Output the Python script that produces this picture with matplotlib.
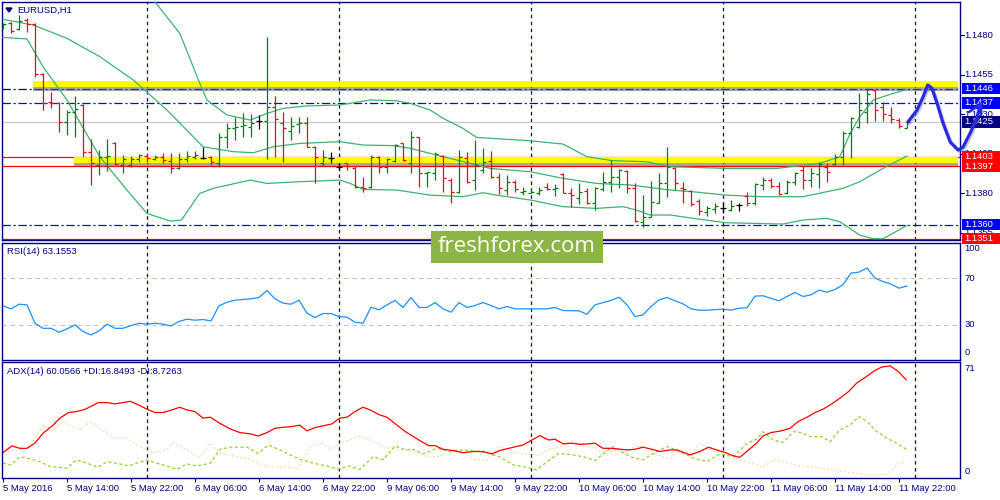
import numpy as np
import matplotlib.pyplot as plt
import matplotlib.patheffects as pe
from matplotlib.patches import Rectangle, Polygon
from matplotlib.transforms import blended_transform_factory

plt.rcParams['font.family'] = ['Liberation Sans', 'DejaVu Sans']
plt.rcParams['lines.scale_dashes'] = False

# ---- chart data (EURUSD H1, bar 0 = 5 May 2016 06:00) ----
time_labels = ['5 May 2016', '5 May 14:00', '5 May 22:00', '6 May 06:00', '6 May 14:00',
               '6 May 22:00', '9 May 06:00', '9 May 14:00', '9 May 22:00', '10 May 06:00',
               '10 May 14:00', '10 May 22:00', '11 May 06:00', '11 May 14:00', '11 May 22:00']
time_label_bars = [0, 8, 16, 24, 32, 40, 48, 56, 64, 72, 80, 88, 96, 104, 112]
day_bars = [18, 42, 66, 90, 114]

opens = [1.14842, 1.14878, 1.14836, 1.14895, 1.14870, 1.14553, 1.14378, 1.14368, 1.14251, 1.14315,
         1.14357, 1.14062, 1.13977, 1.14030, 1.14119, 1.13977, 1.13977, 1.14013, 1.14034, 1.14017,
         1.14030, 1.14005, 1.13956, 1.14013, 1.14030, 1.14022, 1.14030, 1.13988, 1.14157, 1.14209,
         1.14224, 1.14220, 1.14258, 1.14258, 1.14346, 1.14241, 1.14195, 1.14237, 1.14241, 1.14089,
         1.13988, 1.14022, 1.13967, 1.13988, 1.13956, 1.13840, 1.13840, 1.14030, 1.13967, 1.14005,
         1.14114, 1.13988, 1.14157, 1.13929, 1.13924, 1.14036, 1.13882, 1.13808, 1.14019, 1.13882,
         1.13946, 1.14005, 1.13903, 1.13819, 1.13872, 1.13808, 1.13802, 1.13802, 1.13836, 1.13825,
         1.13920, 1.13798, 1.13766, 1.13815, 1.13735, 1.13823, 1.13872, 1.13903, 1.13941, 1.13830,
         1.13619, 1.13650, 1.13739, 1.13861, 1.13956, 1.13830, 1.13815, 1.13751, 1.13682, 1.13697,
         1.13703, 1.13692, 1.13724, 1.13781, 1.13735, 1.13851, 1.13882, 1.13844, 1.13798, 1.13872,
         1.13946, 1.13882, 1.13920, 1.13967, 1.13984, 1.14030, 1.14178, 1.14220, 1.14315, 1.14452,
         1.14346, 1.14294, 1.14262, 1.14214]
highs = [1.14878, 1.14884, 1.14927, 1.14905, 1.14874, 1.14557, 1.14441, 1.14378, 1.14325, 1.14414,
         1.14363, 1.14140, 1.14072, 1.14140, 1.14125, 1.14041, 1.14034, 1.14047, 1.14047, 1.14041,
         1.14051, 1.14051, 1.14051, 1.14068, 1.14068, 1.14093, 1.14034, 1.14178, 1.14241, 1.14283,
         1.14304, 1.14300, 1.14294, 1.14789, 1.14414, 1.14315, 1.14283, 1.14279, 1.14279, 1.14097,
         1.14072, 1.14062, 1.13988, 1.13992, 1.13971, 1.13903, 1.14041, 1.14034, 1.14019, 1.14110,
         1.14119, 1.14192, 1.14157, 1.13935, 1.14062, 1.14041, 1.13893, 1.14072, 1.14062, 1.14135,
         1.14083, 1.14068, 1.13924, 1.13914, 1.13882, 1.13840, 1.13830, 1.13840, 1.13865, 1.13857,
         1.13924, 1.13830, 1.13861, 1.13830, 1.13840, 1.13935, 1.14009, 1.13950, 1.13946, 1.13865,
         1.13787, 1.13878, 1.13924, 1.14093, 1.13967, 1.13872, 1.13819, 1.13760, 1.13718, 1.13735,
         1.13745, 1.13756, 1.13739, 1.13808, 1.13865, 1.13903, 1.13893, 1.13872, 1.13882, 1.13935,
         1.13971, 1.13956, 1.13998, 1.13988, 1.14047, 1.14195, 1.14279, 1.14435, 1.14456, 1.14456,
         1.14378, 1.14342, 1.14273, 1.14258]
lows = [1.14836, 1.14811, 1.14832, 1.14821, 1.14536, 1.14325, 1.14336, 1.14188, 1.14167, 1.14157,
        1.14030, 1.13851, 1.13914, 1.13941, 1.13977, 1.13929, 1.13962, 1.13998, 1.13998, 1.14009,
        1.13992, 1.13924, 1.13950, 1.13998, 1.14013, 1.14017, 1.13977, 1.13962, 1.14083, 1.14135,
        1.14152, 1.14152, 1.14203, 1.14013, 1.14030, 1.13998, 1.14135, 1.14178, 1.14089, 1.13861,
        1.13971, 1.13988, 1.13946, 1.13946, 1.13830, 1.13808, 1.13830, 1.13929, 1.13924, 1.13998,
        1.14005, 1.13924, 1.13840, 1.13840, 1.13882, 1.13808, 1.13739, 1.13802, 1.13861, 1.13819,
        1.13929, 1.13893, 1.13792, 1.13787, 1.13808, 1.13787, 1.13798, 1.13787, 1.13819, 1.13781,
        1.13798, 1.13714, 1.13731, 1.13731, 1.13692, 1.13815, 1.13808, 1.13830, 1.13798, 1.13619,
        1.13583, 1.13646, 1.13735, 1.13777, 1.13819, 1.13739, 1.13718, 1.13661, 1.13654, 1.13671,
        1.13671, 1.13688, 1.13688, 1.13718, 1.13724, 1.13819, 1.13830, 1.13787, 1.13794, 1.13851,
        1.13823, 1.13840, 1.13830, 1.13872, 1.13977, 1.13977, 1.14019, 1.14209, 1.14241, 1.14258,
        1.14258, 1.14245, 1.14209, 1.14209]
closes = [1.14870, 1.14827, 1.14891, 1.14870, 1.14553, 1.14368, 1.14368, 1.14251, 1.14315, 1.14330,
          1.14062, 1.13988, 1.14030, 1.14034, 1.13984, 1.14013, 1.14013, 1.14038, 1.14019, 1.14030,
          1.14009, 1.13956, 1.14015, 1.14034, 1.14038, 1.14022, 1.13998, 1.14152, 1.14209, 1.14220,
          1.14228, 1.14241, 1.14258, 1.14346, 1.14266, 1.14214, 1.14224, 1.14245, 1.14089, 1.14030,
          1.14030, 1.14022, 1.13967, 1.13971, 1.13840, 1.13830, 1.14026, 1.13962, 1.14013, 1.14104,
          1.14009, 1.14157, 1.13929, 1.13932, 1.14047, 1.13893, 1.13808, 1.14026, 1.13872, 1.13977,
          1.13998, 1.13903, 1.13830, 1.13872, 1.13823, 1.13812, 1.13808, 1.13819, 1.13827, 1.13834,
          1.13802, 1.13787, 1.13808, 1.13739, 1.13830, 1.13872, 1.13903, 1.13946, 1.13830, 1.13625,
          1.13650, 1.13745, 1.13861, 1.13967, 1.13861, 1.13823, 1.13730, 1.13688, 1.13703, 1.13718,
          1.13703, 1.13718, 1.13724, 1.13739, 1.13857, 1.13882, 1.13844, 1.13794, 1.13872, 1.13924,
          1.13882, 1.13924, 1.13984, 1.13935, 1.14030, 1.14178, 1.14273, 1.14325, 1.14427, 1.14325,
          1.14300, 1.14266, 1.14224, 1.14251]

# Bollinger bands at the given bar positions
bb_mid_x = [0, 3.8, 8.0, 12.1, 16.3, 20.5, 25.0, 28.8, 31.3, 33.8, 37.1, 42.1, 45.0, 48.8, 50.9, 53.4,
            55.9, 58.4, 60.9, 65.9, 70.0, 74.2, 78.4, 83.4, 86.3, 90.4, 94.6, 100.0, 105.0, 107.1,
            110.4, 113.0]
bb_mid = [1.14899, 1.14863, 1.14779, 1.14663, 1.14515, 1.14325, 1.14093, 1.14062, 1.14055, 1.14093,
          1.14114, 1.14125, 1.14104, 1.14100, 1.14083, 1.14051, 1.14019, 1.13988, 1.13956, 1.13935,
          1.13893, 1.13861, 1.13851, 1.13819, 1.13808, 1.13787, 1.13777, 1.13777, 1.13830, 1.13872,
          1.13967, 1.14034]
bb_up_x = [18.8, 22.1, 24.6, 25.5, 28.0, 30.9, 33.0, 35.0, 37.9, 42.1, 43.4, 45.9, 49.2, 50.9, 53.4,
           55.0, 57.5, 59.2, 65.9, 70.0, 73.0, 76.2, 80.5, 83.4, 90.4, 96.7, 102.1, 104.6, 105.9,
           107.1, 108.8, 111.3, 113.0]
bb_up = [1.15022, 1.14811, 1.14494, 1.14389, 1.14294, 1.14262, 1.14304, 1.14336, 1.14351, 1.14357,
         1.14368, 1.14389, 1.14384, 1.14368, 1.14325, 1.14273, 1.14209, 1.14152, 1.14131, 1.14110,
         1.14030, 1.14005, 1.13998, 1.13967, 1.13956, 1.13956, 1.13988, 1.14030, 1.14178, 1.14283,
         1.14389, 1.14431, 1.14456]
bb_lo_x = [0, 3.0, 5.0, 8.0, 12.1, 15.5, 18.0, 20.9, 22.3, 24.6, 26.3, 30.9, 33.0, 37.1, 42.1, 43.4,
           45.0, 49.2, 53.4, 57.5, 60.0, 61.7, 65.9, 70.0, 74.2, 77.5, 79.2, 80.9, 83.4, 86.3, 90.4,
           97.5, 100.0, 103.0, 104.6, 107.1, 108.8, 110.0, 113.0]
bb_lo = [1.14785, 1.14775, 1.14600, 1.14389, 1.14030, 1.13819, 1.13671, 1.13623, 1.13629, 1.13798,
         1.13830, 1.13882, 1.13861, 1.13872, 1.13882, 1.13861, 1.13823, 1.13819, 1.13787, 1.13777,
         1.13802, 1.13787, 1.13756, 1.13714, 1.13703, 1.13714, 1.13692, 1.13661, 1.13661, 1.13640,
         1.13612, 1.13604, 1.13629, 1.13640, 1.13619, 1.13534, 1.13511, 1.13511, 1.13595]

rsi_x = [0, 1, 2, 3, 4, 5, 6, 7, 8, 9, 10, 11, 12, 13, 14, 15, 16, 17, 18, 19, 20, 21, 22, 23, 24, 25,
         26, 27, 28, 29, 31, 32, 33, 34, 35, 36, 37, 38, 39, 40, 41, 42, 43, 44, 45, 46, 47, 48, 49,
         50, 51, 52, 53, 54, 55, 56, 57, 58, 59, 60, 61, 62, 63, 64, 66, 68, 69, 70, 72, 73, 74, 75,
         76, 77, 78, 79, 80, 81, 82, 83, 84, 85, 86, 87, 88, 90, 91, 92, 93, 94, 95, 97, 98, 99, 100,
         101, 102, 103, 104, 105, 106, 107, 108, 109, 110, 111, 112, 113]
rsi = [46.3, 43.7, 47.7, 47.1, 31.4, 27.1, 27.1, 23.7, 26.6, 30.0, 24.3, 21.4, 24.9, 30.6, 27.1, 27.1,
       29.4, 31.4, 30.6, 31.4, 30.6, 29.1, 32.9, 34.9, 34.0, 34.6, 33.4, 46.3, 49.4, 51.1, 52.3, 53.4,
       59.4, 52.3, 48.6, 47.7, 51.1, 40.0, 36.3, 39.7, 39.7, 37.1, 36.6, 32.3, 31.4, 45.1, 42.9, 47.1,
       50.9, 44.9, 53.4, 44.9, 44.9, 49.1, 43.7, 40.9, 49.1, 44.9, 46.6, 49.1, 46.6, 43.7, 45.7, 43.7,
       43.7, 43.7, 44.9, 42.3, 42.0, 39.1, 47.1, 49.1, 50.9, 53.7, 47.1, 37.1, 38.6, 45.7, 51.4, 53.4,
       50.6, 48.0, 43.7, 42.6, 42.6, 43.4, 42.6, 44.3, 44.6, 54.6, 54.9, 50.6, 54.3, 57.7, 54.3, 55.7,
       59.7, 58.0, 60.3, 64.3, 74.3, 75.1, 78.6, 70.0, 67.1, 64.9, 61.4, 63.2]

adx_x = [0, 1.1, 2.1, 3.0, 4.0, 5.0, 6.3, 7.1, 8.2, 9.2, 10.3, 11.1, 11.9, 13.0, 14.0, 15.0, 15.9,
         16.9, 18.0, 19.0, 20.0, 21.1, 22.1, 23.0, 24.0, 25.0, 25.9, 27.1, 28.4, 29.6, 30.9, 31.9,
         33.0, 34.0, 35.0, 36.1, 37.1, 38.0, 39.0, 40.0, 41.1, 42.1, 43.0, 44.0, 45.0, 45.9, 47.1,
         48.0, 49.2, 50.3, 51.3, 52.3, 53.2, 54.0, 55.0, 56.3, 57.5, 58.8, 60.0, 61.1, 62.1, 63.8,
         65.0, 66.1, 67.1, 68.2, 69.0, 70.0, 71.1, 72.1, 73.2, 74.0, 75.0, 76.1, 78.0, 79.0, 80.0,
         81.1, 82.1, 83.4, 84.2, 85.9, 87.1, 88.2, 89.2, 90.3, 91.3, 92.1, 93.2, 94.2, 95.0, 96.0,
         97.3, 98.4, 99.4, 100.5, 101.5, 102.5, 103.6, 104.6, 105.7, 106.7, 107.8, 108.8, 109.8,
         110.9, 111.9, 112.9]
adx = [14.7, 18.9, 17.4, 17.4, 20.6, 26.8, 32.0, 36.2, 39.7, 40.3, 41.8, 43.8, 45.9, 45.9, 45.1, 45.9,
       46.7, 44.5, 41.8, 39.7, 39.7, 41.3, 43.0, 41.3, 40.3, 36.2, 36.8, 33.0, 29.5, 27.2, 26.4, 25.1,
       27.2, 29.9, 30.5, 31.0, 31.8, 28.3, 30.3, 31.4, 32.6, 36.2, 36.8, 40.3, 43.0, 41.3, 38.2, 36.8,
       32.0, 27.8, 24.7, 21.6, 19.1, 19.1, 16.8, 16.0, 14.7, 15.4, 15.4, 13.9, 16.0, 18.1, 19.5, 22.6,
       25.3, 22.6, 23.1, 20.2, 20.6, 19.9, 20.2, 20.6, 17.4, 17.4, 16.4, 16.8, 18.1, 16.8, 15.4, 16.4,
       16.4, 13.3, 15.4, 18.1, 16.4, 14.7, 12.7, 11.8, 16.4, 20.6, 25.1, 27.2, 28.3, 29.9, 34.1, 36.8,
       39.7, 41.8, 45.1, 48.6, 52.8, 58.0, 61.7, 65.3, 68.0, 68.8, 65.3, 60.1]
pdi_x = [0, 1.0, 2.1, 3.4, 4.6, 5.9, 8.0, 9.2, 10.5, 11.9, 13.0, 14.2, 15.7, 16.7, 18.0, 19.2, 20.5,
         21.7, 23.0, 24.2, 25.9, 27.1, 28.4, 30.5, 31.9, 33.2, 34.6, 35.9, 37.1, 38.8, 40.5, 41.9,
         43.2, 44.6, 46.3, 47.5, 49.0, 50.3, 51.3, 52.5, 54.2, 55.9, 57.1, 58.4, 59.6, 60.9, 62.1,
         63.8, 65.4, 66.7, 68.3, 69.5, 71.2, 72.5, 74.0, 75.4, 76.3, 77.5, 78.6, 80.0, 81.3, 83.0,
         84.2, 86.3, 88.0, 89.6, 91.3, 93.0, 94.2, 95.0, 96.3, 97.5, 98.8, 99.8, 100.9, 102.3, 103.4,
         104.6, 105.9, 107.0, 108.0, 109.2, 110.5, 111.7, 112.9]
plus_di = [8.1, 7.0, 12.2, 10.8, 9.1, 6.0, 5.0, 10.2, 8.1, 5.6, 9.1, 8.1, 6.4, 8.1, 10.2, 8.1, 6.4,
           4.3, 7.7, 6.4, 8.1, 16.8, 18.1, 18.1, 14.3, 19.5, 16.4, 13.3, 10.6, 8.1, 6.4, 4.3, 6.4,
           4.3, 12.2, 10.2, 18.9, 16.4, 16.8, 13.9, 17.4, 15.4, 16.4, 16.0, 15.4, 13.9, 12.0, 7.0,
           5.6, 3.9, 10.2, 14.3, 13.3, 12.2, 9.8, 15.4, 18.5, 14.8, 11.8, 10.2, 14.3, 18.5, 16.4,
           11.2, 9.1, 13.9, 12.2, 20.6, 23.1, 27.8, 22.6, 21.0, 27.8, 27.2, 24.7, 24.7, 21.6, 28.9,
           32.0, 37.2, 34.1, 27.8, 23.7, 20.6, 16.8]
mdi_x = [0, 1.7, 3.0, 3.8, 5.0, 6.3, 7.5, 8.6, 9.6, 10.9, 12.1, 13.8, 15.5, 17.1, 18.8, 20.5, 21.3,
         23.0, 24.6, 25.9, 27.1, 28.8, 30.9, 33.0, 35.5, 36.9, 38.4, 39.8, 40.9, 42.5, 44.6, 45.9,
         47.5, 49.2, 50.9, 53.0, 54.6, 55.9, 57.1, 58.8, 60.5, 62.1, 63.8, 65.4, 67.1, 68.3, 69.5,
         71.2, 72.6, 73.8, 75.5, 76.5, 77.8, 79.0, 80.5, 81.8, 83.4, 84.6, 86.1, 87.1, 88.8, 90.5,
         92.1, 93.8, 95.0, 96.3, 98.0, 99.6, 101.7, 103.8, 105.9, 108.0, 109.3, 110.5, 112.0, 112.9]
minus_di = [15.4, 16.4, 17.4, 21.6, 32.0, 28.9, 34.1, 31.0, 28.9, 34.1, 29.9, 23.7, 23.7, 18.5, 14.3,
            16.8, 21.0, 16.4, 11.8, 20.6, 14.3, 12.7, 10.2, 6.0, 5.6, 4.9, 18.5, 20.6, 16.8, 21.0,
            25.1, 22.6, 18.5, 16.8, 16.4, 12.2, 12.2, 14.7, 16.8, 10.6, 9.8, 18.5, 14.7, 13.9, 13.3,
            16.8, 18.1, 22.2, 18.9, 17.4, 13.9, 16.4, 14.3, 18.9, 18.1, 13.3, 10.6, 16.4, 14.3, 20.6,
            15.4, 14.7, 10.2, 7.7, 5.6, 10.2, 8.5, 6.4, 5.6, 3.9, 2.3, 0.8, 0.8, 1.4, 8.1, 8.7]

# drawn objects
price_ticks = [1.1480, 1.1455, 1.1430, 1.1405, 1.1380, 1.1355]
level_prices = [1.1446, 1.1437, 1.1425, 1.1403, 1.1397, 1.1360, 1.1351]
level_kinds = ['navy', 'blue', 'bid', 'red', 'red', 'blue', 'red']
zone_start = [3.75, 8.9]
zone_price = [1.14487, 1.14009]
forecast_x = [113.1, 114.25, 115.0, 115.6, 116.1, 116.75, 117.5, 118.4, 119.4, 120.0, 120.9, 121.75, 122.2]
forecast_y = [1.14249, 1.14325, 1.14408, 1.14484, 1.14465, 1.14370, 1.14243, 1.14123, 1.14072,
              1.14091, 1.14180, 1.14281, 1.14362]

NAVY = '#000080'
BLUE = '#0000FF'
RED = '#FF0000'
BULL = '#008000'
FS = 6.8
W, H = 1000, 500

fig = plt.figure(figsize=(W / 100, H / 100), dpi=100)


def panel(top, bottom):
    a = fig.add_axes([2 / W, 1 - bottom / H, 958 / W, (bottom - top) / H])
    a.set_xlim(-1 / 8, 957 / 8)
    a.set_xticks([])
    a.set_yticks([])
    for s in a.spines.values():
        s.set_color(NAVY)
        s.set_linewidth(1)
    for d in day_bars:
        a.axvline(d, color=NAVY, lw=0.9, ls=(0, (2.5, 2.5)), zorder=1)
    return a


ax = panel(2, 240)
ax.set_ylim(1.13503, 1.15009)
ax_rsi = panel(243, 360)
ax_rsi.set_ylim(0, 100)
ax_adx = panel(362, 478)
ax_adx.set_ylim(-1.1, 71.2)

tr = blended_transform_factory(ax.transAxes, ax.transData)
dpp = (1.15009 - 1.13503) / 238  # price per pixel

# horizontal levels
styles = {'navy': (NAVY, (0, (6, 2, 1.5, 2))), 'blue': (BLUE, (0, (6, 2, 1.5, 2))),
          'bid': ('#C8C8C8', '-'), 'red': (RED, '-')}
for p, k in zip(level_prices, level_kinds):
    col, ls = styles[k]
    ax.axhline(p, color=col, lw=0.9, ls=ls, zorder=2)

# yellow support / resistance zones
for x0, p in zip(zone_start, zone_price):
    ax.plot([x0, 119.4], [p, p], color='#FFFF00', lw=4.4, solid_capstyle='butt', zorder=3,
            path_effects=[pe.SimpleLineShadow(offset=(0, -2.2), shadow_color='#606060', alpha=0.55),
                          pe.Normal()])

# bollinger bands
bb_col = '#3CB371'
ax.plot(bb_up_x, bb_up, color=bb_col, lw=0.9, zorder=4)
ax.plot(bb_mid_x, bb_mid, color=bb_col, lw=0.9, zorder=4)
ax.plot(bb_lo_x, bb_lo, color=bb_col, lw=0.9, zorder=4)

# OHLC bars
idx = np.arange(len(opens))
o, hi, lo, c = map(np.array, (opens, highs, lows, closes))
cols = np.where(np.isclose(o, c, atol=1e-7), 'black', np.where(c > o, BULL, RED))
ax.vlines(idx, lo, hi, colors=cols, lw=0.9, zorder=6)
ax.hlines(o, idx - 0.42, idx, colors=cols, lw=0.9, zorder=6)
ax.hlines(c, idx, idx + 0.42, colors=cols, lw=0.9, zorder=6)

# price scale
for p in price_ticks:
    ax.plot([1.0, 1.004], [p, p], transform=tr, color=NAVY, lw=0.8, clip_on=False)
    ax.text(1.0045, p, f'{p:.4f}', transform=tr, color=NAVY, fontsize=FS, va='center', ha='left')

box_cols = {'navy': BLUE, 'blue': BLUE, 'bid': NAVY, 'red': RED}
for p, k in zip(level_prices, level_kinds):
    ax.add_patch(Rectangle((960 / 958 + 0.0002, p - 5.6 * dpp), 40 / 958, 11.2 * dpp, transform=tr,
                           facecolor=box_cols[k], edgecolor='none', clip_on=False, zorder=10))
    ax.text(1.0045, p, f'{p:.4f}', transform=tr, color='white', fontsize=FS, va='center',
            ha='left', zorder=11)

# hand-drawn forecast path
ax.plot(forecast_x, forecast_y, color='#2A2AE6', lw=2.3, clip_on=False, zorder=12,
        solid_joinstyle='round', solid_capstyle='round',
        path_effects=[pe.SimpleLineShadow(offset=(1, -1), shadow_color='#404080', alpha=0.3),
                      pe.Normal()])
ax.plot([120.75, forecast_x[-1], 122.3], [1.14313, forecast_y[-1], 1.14300], color='#2A2AE6',
        lw=1.8, clip_on=False, zorder=12, solid_joinstyle='round', solid_capstyle='round')

# RSI
ax_rsi.axhline(70, color='#C0C0C0', lw=0.8, ls=(0, (3, 3)))
ax_rsi.axhline(30, color='#C0C0C0', lw=0.8, ls=(0, (3, 3)))
ax_rsi.plot(rsi_x, rsi, color='#1E90FF', lw=0.9)
tr_rsi = blended_transform_factory(ax_rsi.transAxes, ax_rsi.transData)
for v, lab in zip([95, 70, 30, 6], ['100', '70', '30', '0']):
    ax_rsi.text(1.0045, v, lab, transform=tr_rsi, color=NAVY, fontsize=FS, va='center')

# ADX
ax_adx.plot(mdi_x, minus_di, color='#F5DEB3', lw=0.9, ls=(0, (1.5, 1.5)))
ax_adx.plot(pdi_x, plus_di, color='#9ACD32', lw=0.9, ls=(0, (2.2, 1.8)))
ax_adx.plot(adx_x, adx, color=RED, lw=0.9)
tr_adx = blended_transform_factory(ax_adx.transAxes, ax_adx.transData)
for v, lab in zip([66.9, 2.7], ['71', '0']):
    ax_adx.text(1.0045, v, lab, transform=tr_adx, color=NAVY, fontsize=FS, va='center')

ax_adx.set_xticks(time_label_bars)
ax_adx.set_xticklabels(time_labels, ha='left', fontsize=FS, color=NAVY)
ax_adx.tick_params(axis='x', length=3, width=0.8, color=NAVY, pad=1.5)

# captions
fig.text(17 / W, 1 - 10 / H, 'EURUSD,H1', color=NAVY, fontsize=FS, va='center')
fig.add_artist(Polygon([[6 / W, 1 - 8 / H], [12 / W, 1 - 8 / H], [9 / W, 1 - 12 / H]],
                       closed=True, transform=fig.transFigure, color=NAVY, zorder=20))
fig.text(7 / W, 1 - 251 / H, 'RSI(14) 63.1553', color=NAVY, fontsize=FS, va='center')
fig.text(7 / W, 1 - 372 / H, 'ADX(14) 60.0566 +DI:16.8493 -DI:8.7263', color=NAVY, fontsize=FS,
         va='center')

# watermark
fig.add_artist(Rectangle((431 / W, 1 - 263 / H), 172 / W, 32 / H, transform=fig.transFigure,
                         facecolor='#8DB543', edgecolor='none', zorder=20))
fig.text(517 / W, 1 - 247 / H, 'freshforex.com', color='white', fontsize=16, family='Open Sans',
         ha='center', va='center', zorder=21)

fig.savefig('out.png', dpi=100, facecolor='white')
